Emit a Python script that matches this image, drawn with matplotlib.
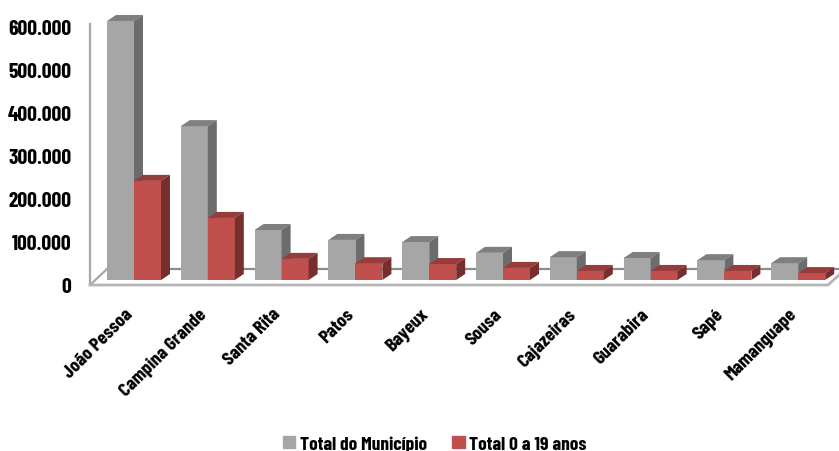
import matplotlib
matplotlib.use('Agg')
import matplotlib.pyplot as plt
from matplotlib.patches import Polygon, Patch
from matplotlib.ticker import FuncFormatter
from matplotlib.transforms import ScaledTranslation

plt.rcParams['font.family'] = ['Barlow Condensed', 'Liberation Sans', 'DejaVu Sans']
plt.rcParams['font.weight'] = 'bold'

cities = ['João Pessoa', 'Campina Grande', 'Santa Rita', 'Patos', 'Bayeux',
          'Sousa', 'Cajazeiras', 'Guarabira', 'Sapé', 'Mamanguape']
total = [601000, 357000, 116000, 93000, 88000, 63000, 53000, 51000, 46000, 39000]
young = [230000, 144000, 49000, 39000, 37000, 28000, 21000, 21000, 21000, 16000]
yticks = [0, 100000, 200000, 300000, 400000, 500000, 600000]

W, H = 839, 452
px_per_unit = 73.8      # one city
px_per_100k = 43.1
left, right, floor, top = 90, 839, 286, 0

fig = plt.figure(figsize=(W / 100, H / 100), dpi=100)
ax = fig.add_axes([left / W, 1 - floor / H, (right - left) / W, (floor - top) / H])
ax.set_xlim((left - 134) / px_per_unit, (right - 134) / px_per_unit)
ax.set_ylim(0, (floor - top) / px_per_100k * 100000)

# pixel sizes turned into data units
dx = lambda p: p / px_per_unit
dy = lambda p: p / px_per_100k * 100000
bar_w = dx(27)
depth_x, depth_y = dx(9), dy(6)
lift = dy(5)


def bar3d(x, val, front, top_c, side_c, z):
    ax.bar(x, val, bar_w, bottom=lift, align='edge', color=front, zorder=z)
    y0, y1 = lift, lift + val
    x1 = x + bar_w
    ax.add_patch(Polygon([(x, y1), (x1, y1), (x1 + depth_x, y1 + depth_y), (x + depth_x, y1 + depth_y)],
                         color=top_c, lw=0, zorder=z, clip_on=False))
    ax.add_patch(Polygon([(x1, y0), (x1 + depth_x, y0 + depth_y), (x1 + depth_x, y1 + depth_y), (x1, y1)],
                         color=side_c, lw=0, zorder=z, clip_on=False))


for i in range(len(cities)):
    bar3d(i - bar_w, total[i], '#A6A6A6', '#7F7F7F', '#6C6C6C', 3)
    bar3d(i, young[i], '#C0504D', '#963C3A', '#772F2D', 4)

# floor and wall
line_c = '#A8A8A8'
x_l, x_r = ax.get_xlim()
back = dy(16)
ax.plot([dx(17) + x_l, x_r], [back, back], color='#8C8C8C', lw=1.6, zorder=1, clip_on=False)
ax.plot([x_l, x_l, dx(17) + x_l], [dy(261), 0, back], color=line_c, lw=1.6, zorder=2, clip_on=False)
ax.plot([x_l, x_r - dx(11), x_r], [0, 0, dy(10)], color='#B5B5B5', lw=2, zorder=2, clip_on=False)

for s in ax.spines.values():
    s.set_visible(False)
ax.patch.set_visible(False)

ax.set_yticks(yticks)
ax.yaxis.set_major_formatter(FuncFormatter(lambda v, p: f'{int(v):,}'.replace(',', '.')))
ax.tick_params(axis='y', length=0, pad=13.5, labelsize=15.5)
ax.set_xticks(range(len(cities)))
ax.set_xticklabels(cities, rotation=45, ha='right', va='top', rotation_mode='anchor', fontsize=14)
ax.tick_params(axis='x', length=0, pad=16)
# labels end a little left of the group centre
shift = ScaledTranslation(-7 / 72, 1.5 / 72, fig.dpi_scale_trans)
for lab in ax.get_xticklabels():
    lab.set_transform(lab.get_transform() + shift)

handles = [Patch(color='#A6A6A6', label='Total do Município'),
           Patch(color='#C0504D', label='Total 0 a 19 anos')]
fig.legend(handles=handles, loc='center', bbox_to_anchor=(435 / W, 1 - 445 / H), ncol=2, frameon=False,
           fontsize=14, borderpad=0, borderaxespad=0, handlelength=0.62, handleheight=0.62,
           handletextpad=0.25, columnspacing=1.3)

fig.savefig('out.png', dpi=100)
